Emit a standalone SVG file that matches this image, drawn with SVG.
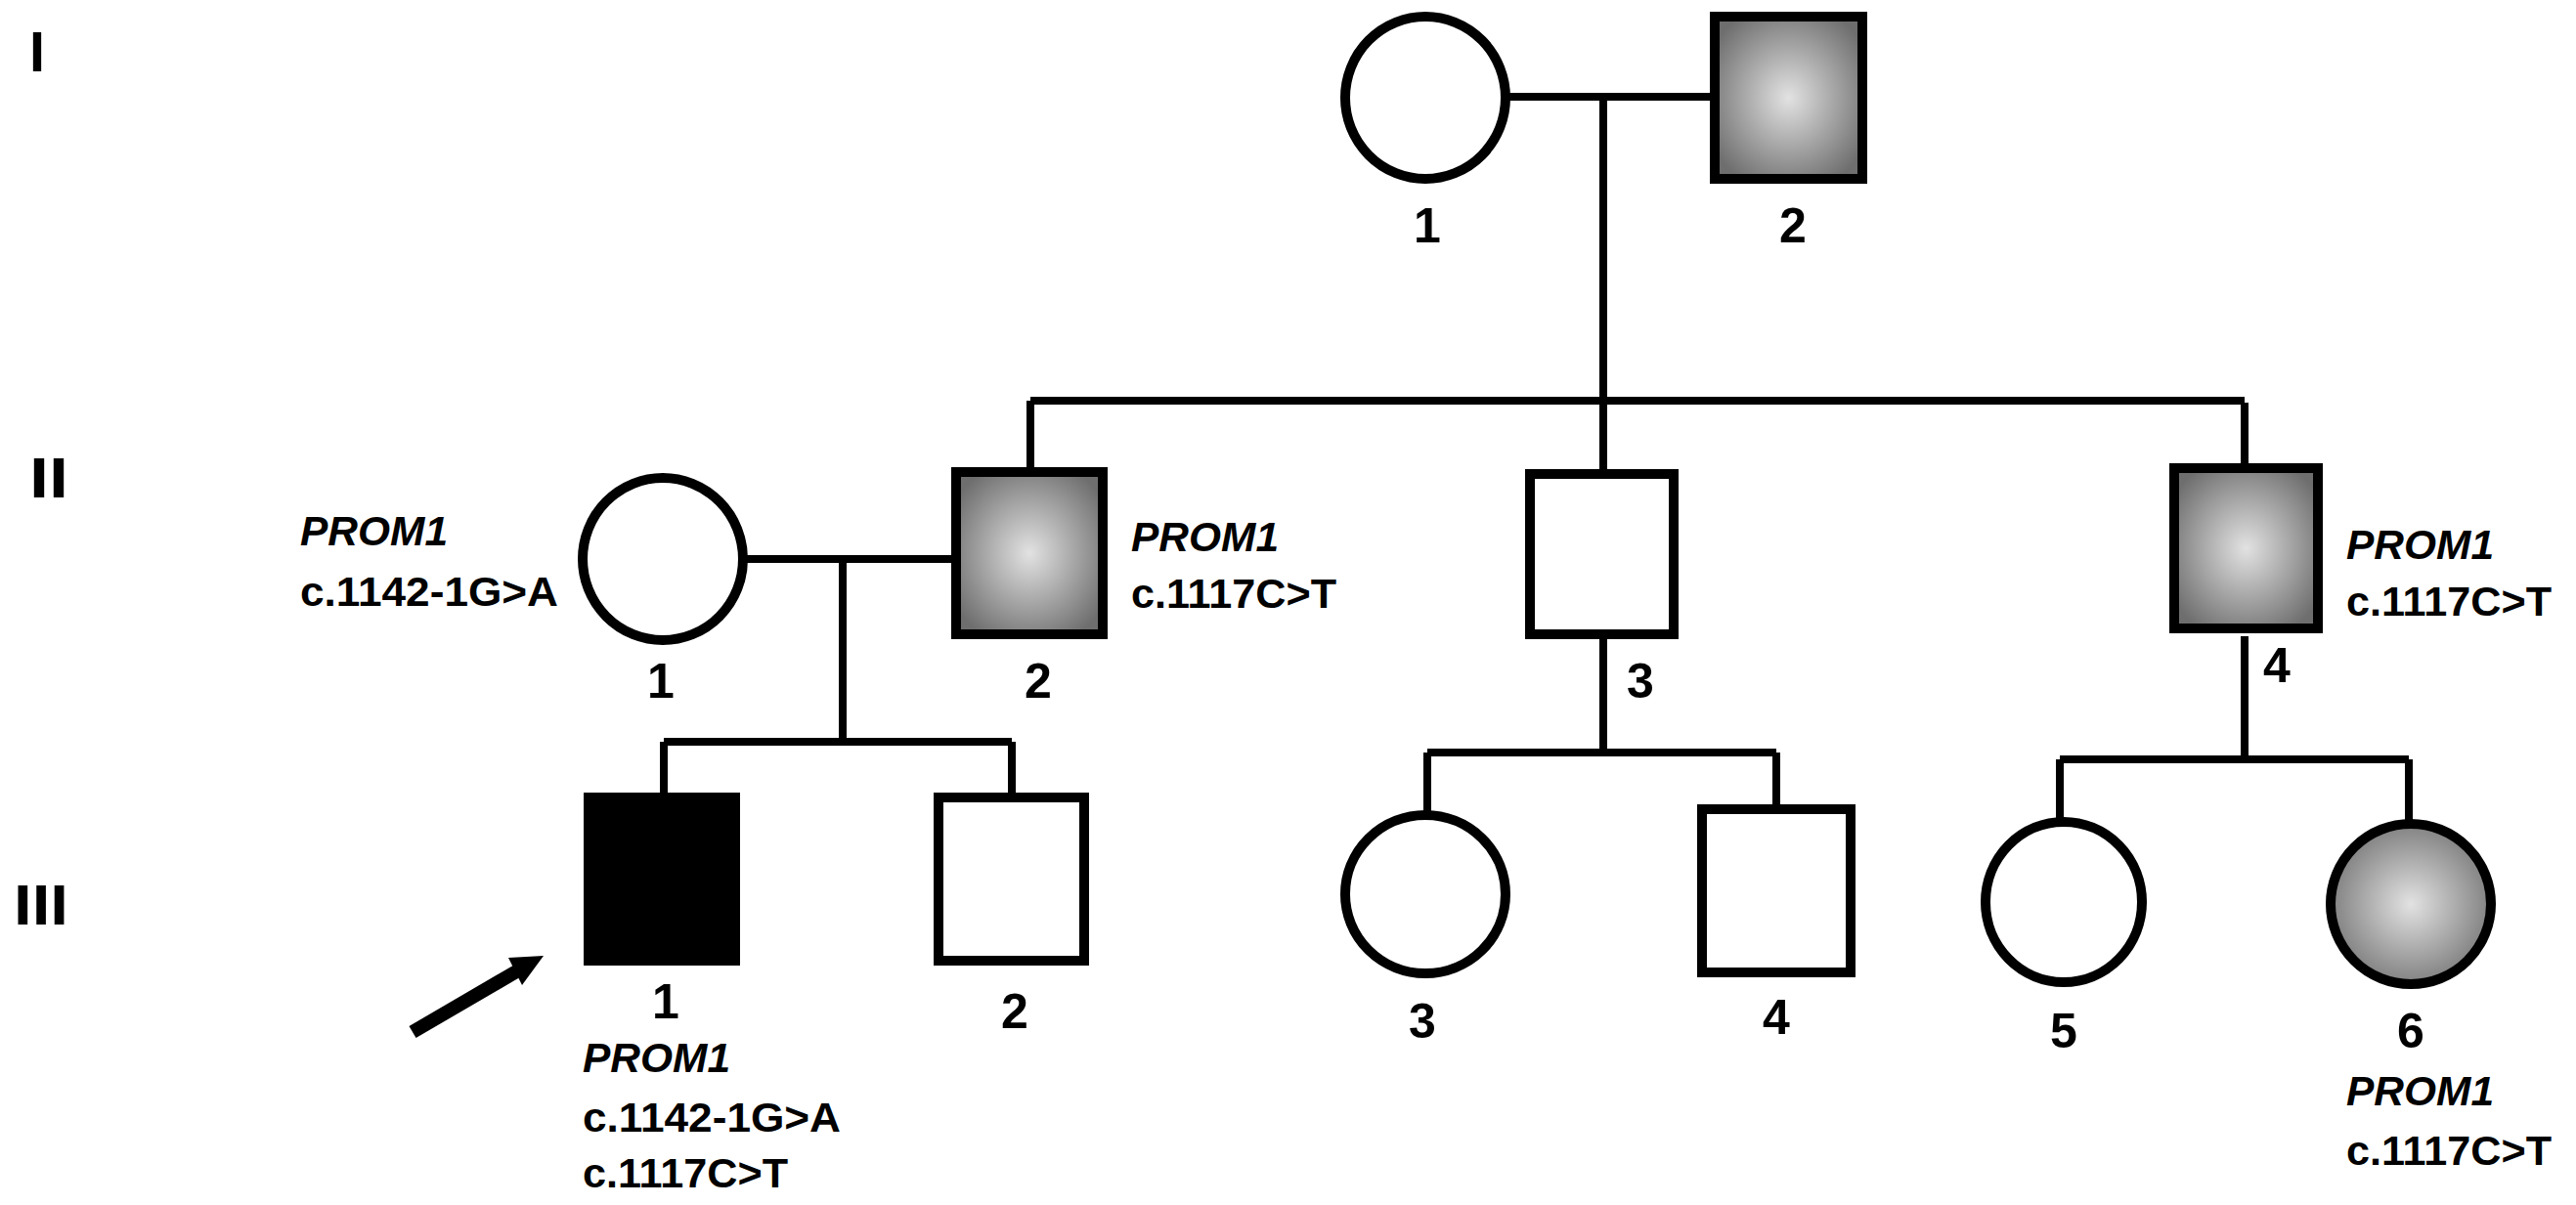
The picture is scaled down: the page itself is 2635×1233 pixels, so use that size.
<svg xmlns="http://www.w3.org/2000/svg" width="2635" height="1233" viewBox="0 0 2635 1233">
<defs>
<radialGradient id="g" cx="50%" cy="50%" r="60%"><stop offset="0" stop-color="#e2e2e2"/><stop offset="1" stop-color="#6e6e6e"/></radialGradient>
<style>
.s{stroke:#000;stroke-width:10;fill:#fff}
.a{fill:url(#g)}
.b{fill:#000}
.l{stroke:#000;stroke-width:8;fill:none}
.t{font-family:"Liberation Sans Narrow","Liberation Sans",sans-serif;font-weight:bold;fill:#000}
.n{font-size:50px;text-anchor:middle}
.g{font-size:58px}
.m{font-size:42px}
.i{font-style:italic}
</style>
</defs>
<rect width="2635" height="1233" fill="#fff"/>
<g id="connectors">
<path class="l" d="M1544 99H1750M1640 99V412M1054 410H2296M1054 410V479M1640 412V481M2296 412V475M764 572H974M862 572V759M679 759H1035M679 759V812M1035 759V812M1640 653V770M1460 770H1817M1460 770V830M1817 770V824M2296 651V777M2107 777H2464M2107 777V838M2464 777V840"/>
<line x1="422" y1="1056" x2="530" y2="993" stroke="#000" stroke-width="14"/>
<polygon points="556,978 520,980 534,1008" fill="#000"/>
</g>
<g class="t g"><text x="30" y="73" textLength="16" lengthAdjust="spacingAndGlyphs">I</text><text x="30" y="509" textLength="40" lengthAdjust="spacingAndGlyphs">II</text><text x="14" y="946" textLength="56" lengthAdjust="spacingAndGlyphs">III</text></g>
<g id="I1"><ellipse class="s" cx="1458" cy="100" rx="82" ry="83"/><text class="t n" x="1460" y="248">1</text></g>
<g id="I2"><rect class="s a" x="1754" y="17" width="151" height="166"/><text class="t n" x="1834" y="248">2</text></g>
<g id="II1"><ellipse class="s" cx="678" cy="572" rx="82" ry="83"/><text class="t n" x="676" y="714">1</text>
<text class="t m i" x="307" y="558" textLength="151" lengthAdjust="spacingAndGlyphs">PROM1</text><text class="t m" x="307" y="620" textLength="264" lengthAdjust="spacingAndGlyphs">c.1142-1G&gt;A</text></g>
<g id="II2"><rect class="s a" x="978" y="483" width="150" height="166"/><text class="t n" x="1062" y="714">2</text>
<text class="t m i" x="1157" y="564" textLength="151" lengthAdjust="spacingAndGlyphs">PROM1</text><text class="t m" x="1157" y="622" textLength="210" lengthAdjust="spacingAndGlyphs">c.1117C&gt;T</text></g>
<g id="II3"><rect class="s" x="1565" y="485" width="147" height="164"/><text class="t n" x="1678" y="714">3</text></g>
<g id="II4"><rect class="s a" x="2224" y="479" width="147" height="164"/><text class="t n" x="2329" y="698">4</text>
<text class="t m i" x="2400" y="572" textLength="151" lengthAdjust="spacingAndGlyphs">PROM1</text><text class="t m" x="2400" y="630" textLength="210" lengthAdjust="spacingAndGlyphs">c.1117C&gt;T</text></g>
<g id="III1"><rect class="s b" x="602" y="816" width="150" height="167"/><text class="t n" x="681" y="1042">1</text>
<text class="t m i" x="596" y="1097" textLength="151" lengthAdjust="spacingAndGlyphs">PROM1</text><text class="t m" x="596" y="1158" textLength="264" lengthAdjust="spacingAndGlyphs">c.1142-1G&gt;A</text><text class="t m" x="596" y="1215" textLength="210" lengthAdjust="spacingAndGlyphs">c.1117C&gt;T</text></g>
<g id="III2"><rect class="s" x="960" y="816" width="149" height="167"/><text class="t n" x="1038" y="1052">2</text></g>
<g id="III3"><ellipse class="s" cx="1458" cy="915" rx="82" ry="81"/><text class="t n" x="1455" y="1062">3</text></g>
<g id="III4"><rect class="s" x="1741" y="828" width="152" height="167"/><text class="t n" x="1817" y="1058">4</text></g>
<g id="III5"><ellipse class="s" cx="2111" cy="923" rx="80" ry="82"/><text class="t n" x="2111" y="1072">5</text></g>
<g id="III6"><ellipse class="s a" cx="2466" cy="925" rx="82" ry="82"/><text class="t n" x="2466" y="1072">6</text>
<text class="t m i" x="2400" y="1131" textLength="151" lengthAdjust="spacingAndGlyphs">PROM1</text><text class="t m" x="2400" y="1192" textLength="210" lengthAdjust="spacingAndGlyphs">c.1117C&gt;T</text></g>
</svg>
